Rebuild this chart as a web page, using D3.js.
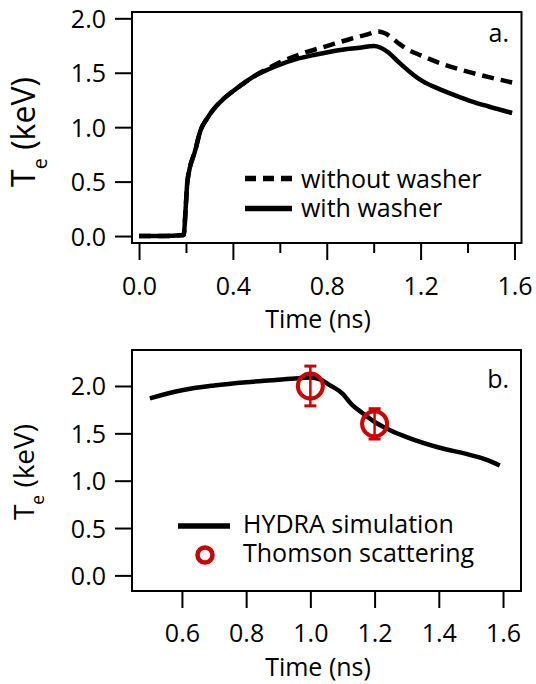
<!DOCTYPE html>
<html><head><meta charset="utf-8">
<script src="https://cdn.jsdelivr.net/npm/d3@7"></script>
<style>
body{margin:0;background:#fff}
text{font-family:'Open Sans',sans-serif;fill:#000}
</style>
</head><body>
<svg id="c" width="536" height="684"></svg>
<script>
// ---- data ----
const timeWith   = [0,0.1,0.19,0.2,0.206,0.24,0.262,0.29,0.32,0.36,0.40,0.45,0.50,0.55,0.60,0.67,0.75,0.81,0.88,0.94,1.0,1.03,1.06,1.11,1.17,1.21,1.28,1.35,1.42,1.49,1.59];
const teWith     = [0,0,0.01,0.3,0.5,0.79,0.97,1.08,1.17,1.26,1.33,1.41,1.48,1.53,1.575,1.625,1.665,1.69,1.715,1.73,1.745,1.73,1.69,1.59,1.48,1.42,1.35,1.29,1.235,1.19,1.13];
const timeWithout= [0,0.1,0.19,0.2,0.206,0.24,0.262,0.29,0.32,0.36,0.40,0.45,0.50,0.55,0.6,0.7,0.8,0.9,0.97,1.02,1.05,1.1,1.14,1.2,1.3,1.4,1.5,1.59];
const teWithout  = [0,0,0.01,0.3,0.5,0.79,0.97,1.08,1.17,1.26,1.33,1.41,1.48,1.54,1.595,1.68,1.745,1.81,1.85,1.88,1.86,1.78,1.72,1.66,1.575,1.51,1.455,1.41];
const timeHydra  = [0.5,0.6,0.7,0.8,0.9,0.97,1.0,1.03,1.06,1.1,1.13,1.16,1.2,1.25,1.3,1.4,1.5,1.55,1.59];
const teHydra    = [1.87,1.955,2.005,2.04,2.065,2.085,2.09,2.07,2.01,1.92,1.80,1.72,1.62,1.53,1.46,1.35,1.27,1.22,1.16];
const thomsonTime= [1.0,1.2];
const thomsonTe  = [2.0,1.6];
const thomsonErr = [0.21,0.16];
const ticksA     = [0,0.4,0.8,1.2,1.6];
const minorTicksA= [0.2,0.6,1.0,1.4];
const ticksB     = [0.6,0.8,1.0,1.2,1.4,1.6];
const yTicks     = [0,0.5,1.0,1.5,2.0];
const legendA    = ["without washer","with washer"];
const legendB    = ["HYDRA simulation","Thomson scattering"];
const RED = "#cc0000";

const svg = d3.select('#c');
svg.append('rect').attr('width',536).attr('height',684).attr('fill','#fff');
const FS = 25;

function frameAxes(x, y, xt, minor, labelPanel, labelY, tickLabelOff, titleOff, yt){
  const [x0,x1] = x.range(), [y0,y1] = y.range(); // y0 bottom, y1 top
  const gx = svg.append('g').attr('transform',`translate(0,${y0})`)
    .call(d3.axisBottom(x).tickValues(xt).tickSize(17).tickFormat(d3.format('.1f')));
  gx.select('.domain').remove();
  gx.selectAll('line').attr('stroke','#000').attr('stroke-width',2);
  gx.selectAll('text').attr('y',tickLabelOff).attr('dy',0).attr('font-size',FS).attr('font-family',"'Open Sans',sans-serif");
  if (minor.length){
    const gm = svg.append('g').attr('transform',`translate(0,${y0})`)
      .call(d3.axisBottom(x).tickValues(minor).tickSize(10).tickFormat(''));
    gm.select('.domain').remove();
    gm.selectAll('line').attr('stroke','#000').attr('stroke-width',2);
  }
  const gy = svg.append('g').attr('transform',`translate(${x0},0)`)
    .call(d3.axisLeft(y).tickValues(yTicks).tickSize(17).tickPadding(9).tickFormat(d3.format('.1f')));
  gy.select('.domain').remove();
  gy.selectAll('line').attr('stroke','#000').attr('stroke-width',2);
  gy.selectAll('text').attr('dy','0.36em').attr('font-size',FS).attr('font-family',"'Open Sans',sans-serif");
  svg.append('rect').attr('x',x0).attr('y',y1).attr('width',x1-x0).attr('height',y0-y1)
    .attr('fill','none').attr('stroke','#000').attr('stroke-width',2);
  svg.append('text').attr('x',318).attr('y',y0+titleOff).attr('text-anchor','middle')
    .attr('font-size',FS).text('Time (ns)');
  // y title
  const t = svg.append('text').attr('transform',`translate(${yt.x},${yt.cy}) rotate(-90)`)
    .attr('text-anchor','middle').attr('font-size',yt.fs);
  t.append('tspan').text('T');
  t.append('tspan').attr('font-size',yt.fs*0.62).attr('dy',yt.sub).text('e');
  t.append('tspan').attr('dy',-yt.sub).text(' (keV)');
  svg.append('text').attr('x',509).attr('y',labelY).attr('text-anchor','end')
    .attr('font-size',FS).text(labelPanel);
}

const line = (x,y)=>d3.line().x(d=>x(d[0])).y(d=>y(d[1])).curve(d3.curveMonotoneX);

// ---------- Panel a ----------
const xa = d3.scaleLinear().domain([-0.03,1.63]).range([132,521.5]);
const ya = d3.scaleLinear().domain([-0.064,2.058]).range([243,12]);
frameAxes(xa, ya, ticksA, minorTicksA, 'a.', 41.7, 52, 85, {x:35, cy:132, fs:32, sub:12});

svg.append('path').datum(timeWithout.map((t,i)=>[t,teWithout[i]]))
  .attr('d',line(xa,ya)).attr('fill','none').attr('stroke','#000')
  .attr('stroke-width',4.5).attr('stroke-dasharray','12,7');
svg.append('path').datum(timeWith.map((t,i)=>[t,teWith[i]]))
  .attr('d',line(xa,ya)).attr('fill','none').attr('stroke','#000')
  .attr('stroke-width',4.5).attr('stroke-linejoin','round');

svg.append('line').attr('x1',245).attr('x2',292).attr('y1',178.5).attr('y2',178.5)
  .attr('stroke','#000').attr('stroke-width',5.5).attr('stroke-dasharray','11,7');
svg.append('line').attr('x1',245).attr('x2',292).attr('y1',208.5).attr('y2',208.5)
  .attr('stroke','#000').attr('stroke-width',5.5);
svg.append('text').attr('x',301).attr('y',188.3).attr('font-size',FS).text(legendA[0]);
svg.append('text').attr('x',301).attr('y',216.7).attr('font-size',FS).text(legendA[1]);

// ---------- Panel b ----------
const xb = d3.scaleLinear().domain([0.4445,1.656]).range([132,521]);
const yb = d3.scaleLinear().domain([-0.165,2.38]).range([591,350]);
frameAxes(xb, yb, ticksB, [], 'b.', 388.3, 51, 85, {x:34, cy:472, fs:28, sub:10});

svg.append('path').datum(timeHydra.map((t,i)=>[t,teHydra[i]]))
  .attr('d',line(xb,yb)).attr('fill','none').attr('stroke','#000')
  .attr('stroke-width',4.5).attr('stroke-linejoin','round');

const g = svg.append('g').selectAll('g').data(thomsonTime).join('g');
g.append('line').attr('x1',(d)=>xb(d)).attr('x2',d=>xb(d))
  .attr('y1',(d,i)=>yb(thomsonTe[i]+thomsonErr[i])).attr('y2',(d,i)=>yb(thomsonTe[i]-thomsonErr[i]))
  .attr('stroke',RED).attr('stroke-width',2.5);
[1,-1].forEach(s=>{
  g.append('line').attr('x1',d=>xb(d)-6).attr('x2',d=>xb(d)+6)
    .attr('y1',(d,i)=>yb(thomsonTe[i]+s*thomsonErr[i])).attr('y2',(d,i)=>yb(thomsonTe[i]+s*thomsonErr[i]))
    .attr('stroke',RED).attr('stroke-width',3);
});
g.append('circle').attr('cx',d=>xb(d)).attr('cy',(d,i)=>yb(thomsonTe[i])).attr('r',12.5)
  .attr('fill','none').attr('stroke',RED).attr('stroke-width',4);

svg.append('line').attr('x1',178).attr('x2',230).attr('y1',526).attr('y2',526)
  .attr('stroke','#000').attr('stroke-width',5.5);
svg.append('circle').attr('cx',205).attr('cy',555).attr('r',7.5)
  .attr('fill','none').attr('stroke',RED).attr('stroke-width',4.5);
svg.append('text').attr('x',243).attr('y',533.3).attr('font-size',FS).text(legendB[0]);
svg.append('text').attr('x',243).attr('y',561.7).attr('font-size',FS).text(legendB[1]);
</script>
</body></html>
